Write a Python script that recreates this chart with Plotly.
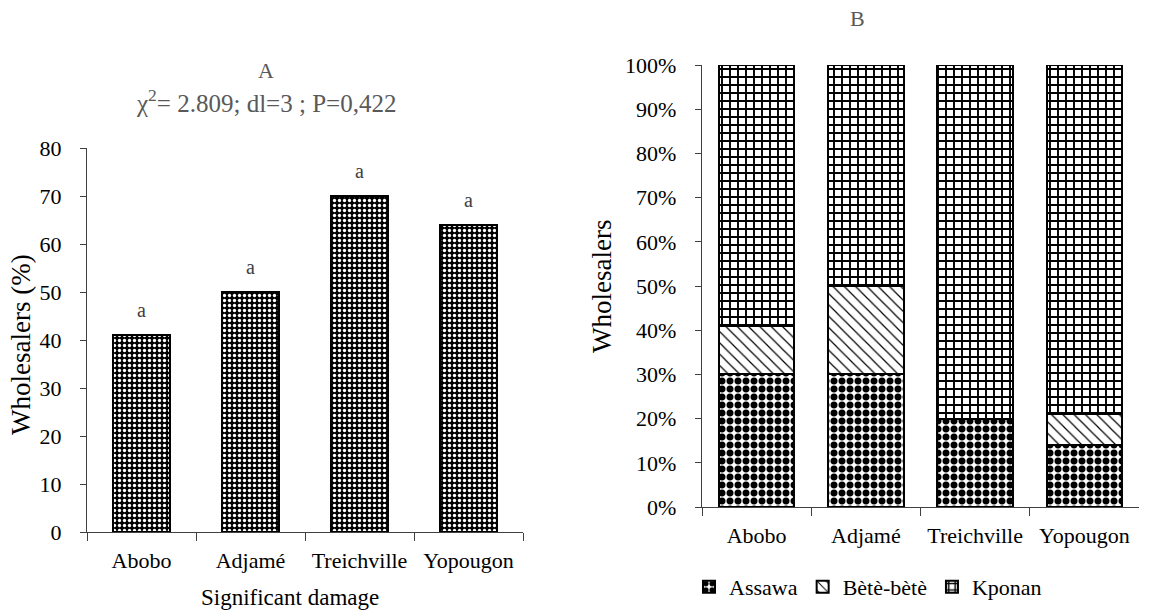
import plotly.graph_objects as go

# ---- data ----
sites = ["Abobo", "Adjamé", "Treichville", "Yopougon"]
damage_pct = [41, 50, 70, 64]
damage_letters = ["a", "a", "a", "a"]

assawa = [0.30, 0.30, 0.20, 0.14]
bete_bete = [0.11, 0.20, 0.00, 0.07]
kponan = [0.59, 0.50, 0.80, 0.79]

y_ticks_left = [0, 10, 20, 30, 40, 50, 60, 70, 80]
y_ticks_right = [0, 0.1, 0.2, 0.3, 0.4, 0.5, 0.6, 0.7, 0.8, 0.9, 1.0]

W, H = 1151, 614
FONT = "Liberation Serif"
GREY = "#595959"
AX = "#404040"

fig = go.Figure()

# Panel A
fig.add_trace(go.Bar(
    x=sites, y=damage_pct, width=0.52, showlegend=False,
    marker=dict(color="black", line=dict(color="black", width=2.5),
                pattern=dict(shape=".", fgcolor="white", bgcolor="black", fgopacity=1,
                             size=5, solidity=0.35, fillmode="overlay")),
    xaxis="x", yaxis="y",
))

# Panel B
fig.add_trace(go.Bar(
    x=sites, y=assawa, name="Assawa", width=0.69,
    marker=dict(color="white", line=dict(color="black", width=2),
                pattern=dict(shape=".", fgcolor="black", bgcolor="white", fgopacity=1,
                             size=8, solidity=0.6, fillmode="overlay")),
    xaxis="x2", yaxis="y2",
))
fig.add_trace(go.Bar(
    x=sites, y=bete_bete, name="Bètè-bètè", width=0.69,
    marker=dict(color="white", line=dict(color="black", width=2),
                pattern=dict(shape="\\", fgcolor="black", bgcolor="white", fgopacity=1,
                             size=8, solidity=0.15, fillmode="overlay")),
    xaxis="x2", yaxis="y2",
))
fig.add_trace(go.Bar(
    x=sites, y=kponan, name="Kponan", width=0.69,
    marker=dict(color="white", line=dict(color="black", width=2),
                pattern=dict(shape="+", fgcolor="black", bgcolor="white", fgopacity=1,
                             size=8, solidity=0.42, fillmode="overlay")),
    xaxis="x2", yaxis="y2",
))

annotations = []
for s, v, t in zip(sites, damage_pct, damage_letters):
    annotations.append(dict(x=s, y=v, xref="x", yref="y", text=t, showarrow=False,
                            yanchor="middle", yshift=25,
                            font=dict(family=FONT, size=20, color=AX)))

annotations += [
    dict(x=266 / W, y=1 - 70 / H, xref="paper", yref="paper", text="A", showarrow=False,
         xanchor="center", yanchor="middle", font=dict(family=FONT, size=22, color=GREY)),
    dict(x=266 / W, y=1 - 101 / H, xref="paper", yref="paper",
         text="χ<sup>2</sup>= 2.809; dl=3 ; P=0,422", showarrow=False,
         xanchor="center", yanchor="middle", font=dict(family=FONT, size=25, color=GREY)),
    dict(x=857 / W, y=1 - 18 / H, xref="paper", yref="paper", text="B", showarrow=False,
         xanchor="center", yanchor="middle", font=dict(family=FONT, size=22, color=GREY)),
    dict(x=21 / W, y=1 - 345 / H, xref="paper", yref="paper", text="Wholesalers (%)",
         showarrow=False, textangle=-90, xanchor="center", yanchor="middle",
         font=dict(family=FONT, size=27, color="black")),
    dict(x=602 / W, y=1 - 287 / H, xref="paper", yref="paper", text="Wholesalers",
         showarrow=False, textangle=-90, xanchor="center", yanchor="middle",
         font=dict(family=FONT, size=27, color="black")),
    dict(x=290 / W, y=1 - 597 / H, xref="paper", yref="paper", text="Significant damage",
         showarrow=False, xanchor="center", yanchor="middle",
         font=dict(family=FONT, size=23, color="black")),
]

common_x = dict(type="category", showline=True, linecolor=AX, linewidth=1.3,
                ticks="outside", ticklen=8, tickwidth=1.3, tickcolor=AX,
                tickson="boundaries", showgrid=False, zeroline=False,
                automargin=False,
                tickfont=dict(family=FONT, size=22, color="black"),
                ticklabelstandoff=8)
common_y = dict(showline=True, linecolor=AX, linewidth=1.3, ticks="outside",
                ticklen=6, tickwidth=1.3, tickcolor=AX, showgrid=False, zeroline=False,
                automargin=False,
                tickfont=dict(family=FONT, size=22, color="black"),
                ticklabelstandoff=14)

fig.update_layout(
    width=W, height=H, margin=dict(l=0, r=0, t=0, b=0, pad=0, autoexpand=False),
    paper_bgcolor="white", plot_bgcolor="white",
    barmode="stack",
    font=dict(family=FONT, size=20, color="black"),
    xaxis=dict(domain=[87 / W, 523 / W], anchor="y", **common_x),
    yaxis=dict(domain=[1 - 532 / H, 1 - 148 / H], anchor="x", range=[0, 80],
               tickvals=y_ticks_left, **common_y),
    xaxis2=dict(domain=[702 / W, 1139 / W], anchor="y2", **common_x),
    yaxis2=dict(domain=[1 - 507 / H, 1 - 65 / H], anchor="x2", range=[0, 1],
                tickvals=y_ticks_right, tickformat=".0%", **common_y),
    legend=dict(orientation="h", x=868 / W, xanchor="center", y=1 - 587 / H,
                yanchor="middle", traceorder="normal",
                font=dict(family=FONT, size=22, color="black"),
                itemwidth=30, bgcolor="rgba(0,0,0,0)"),
    annotations=annotations,
)

fig.write_html("out.html", config={"displayModeBar": False},
               post_script="document.body.style.margin='0';document.body.style.overflow='hidden';")
